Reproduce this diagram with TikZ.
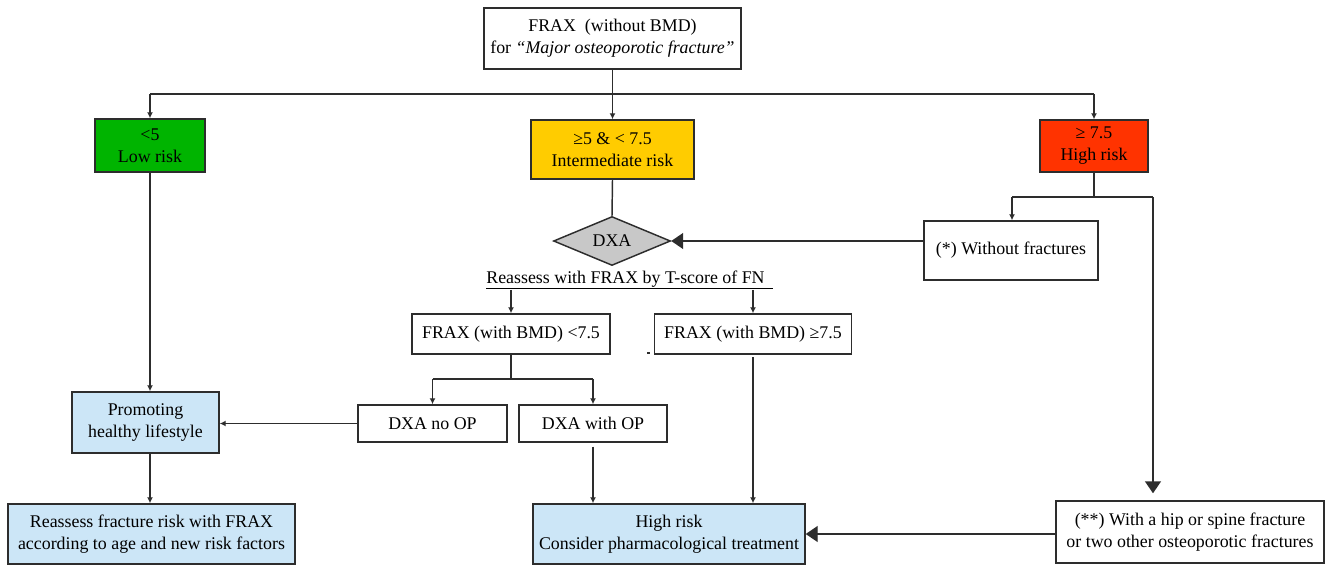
\documentclass[tikz,border=0pt]{standalone}
\usepackage{fontspec}
\setmainfont{Liberation Serif}
\usetikzlibrary{arrows.meta,shapes.geometric}

\definecolor{lowgreen}{RGB}{0,180,0}
\definecolor{midyellow}{RGB}{255,204,0}
\definecolor{highred}{RGB}{255,51,0}
\definecolor{actionblue}{RGB}{204,230,247}
\definecolor{dxagray}{RGB}{200,200,200}
\definecolor{ink}{RGB}{45,45,45}

\begin{document}
\begin{tikzpicture}[x=0.75pt,y=-0.75pt,
  every node/.style={font=\fontsize{13.4pt}{16.5pt}\selectfont, text=black},
  sz/.style 2 args={minimum width=#1*0.75pt, minimum height=#2*0.75pt},
  box/.style={draw=ink, line width=1.1pt, rectangle, align=center, inner sep=0pt},
  wire/.style={draw=ink, line width=1.1pt},
  arr/.style={wire, -{Latex[length=4.5pt,width=4.5pt]}},
  bigarr/.style={wire, -{Triangle[length=9pt,width=12pt]}},
]
\useasboundingbox (0,0) rectangle (1336,567);

% boxes
\node[box, sz={257}{61}] (top) at (612.5,38.5)
  {FRAX\ \ (without BMD)\\for \textit{“Major osteoporotic fracture”}};
\node[box, fill=lowgreen, sz={110}{53}] (low) at (150,145.5) {<5\\Low risk};
\node[box, fill=midyellow, sz={163}{59}] (mid) at (612.5,149.5) {≥5 \& < 7.5\\Intermediate risk};
\node[box, fill=highred, sz={108}{52}] (high) at (1094,146) {≥ 7.5\\High risk};
\node[diamond, draw=ink, line width=1.1pt, fill=dxagray, inner sep=0pt, aspect=2.4,
      sz={117}{49}] (dxa) at (612,241) {DXA};
\node[box, sz={174}{59}] (nofx) at (1011,250.5) {(*) Without fractures};
\node[inner sep=0pt, anchor=base] (reass) at (629.5,283)
  {\underline{Reassess with FRAX by T-score of FN\hspace{6pt}}};
\node[box, sz={198}{40}] (lt) at (511,334) {FRAX (with BMD) <7.5};
\node[box, sz={197}{40}] (ge) at (753,334) {FRAX (with BMD) ≥7.5};
\node[box, sz={149}{37}] (noop) at (432.5,423.5) {DXA no OP};
\node[box, sz={148}{37}] (withop) at (593,423.5) {DXA with OP};
\node[box, fill=actionblue, sz={147}{61}] (promo) at (145.5,422.5) {Promoting\\healthy lifestyle};
\node[box, fill=actionblue, sz={287}{60}] (refrax) at (151.5,534)
  {Reassess fracture risk with FRAX\\according to age and new risk factors};
\node[box, fill=actionblue, sz={272}{60}] (treat) at (669,534)
  {High risk\\Consider pharmacological treatment};
\node[box, sz={268}{62}] (twofx) at (1190,532)
  {(**) With a hip or spine fracture\\or two other osteoporotic fractures};

% stray mark next to the right FRAX box
\fill[ink] (647,352) rectangle (650,354);

% top distribution bus
\coordinate (busL) at (150,94);
\coordinate (busR) at (1094,94);
\draw[wire] (top.south) -- (top.south |- busL);
\draw[wire] (busL) -- (busR);
\draw[arr] (busL) -- (low.north);
\draw[arr] (top.south |- busL) -- (mid.north);
\draw[arr] (busR) -- (high.north);

% intermediate risk to DXA
\draw[wire] (mid.south) -- (dxa.north);

% high risk branches
\coordinate (hj) at (1094,197);
\coordinate (hjL) at (1012,197);
\coordinate (hjR) at (1153,197);
\draw[wire] (high.south) -- (hj);
\draw[wire] (hjL) -- (hjR);
\draw[arr] (hjL) -- (hjL |- nofx.north);
\draw[bigarr, shorten >=5.25pt] (hjR) -- (hjR |- twofx.north);
\draw[bigarr] (nofx.west |- dxa.east) -- (dxa.east);

% reassessment with BMD
\draw[arr] (reass.south -| lt.north) -- (lt.north);
\draw[arr] (reass.south -| ge.north) -- (ge.north);
\coordinate (lj) at (511,379);
\draw[wire] (lt.south) -- (lj);
\draw[wire] (noop.north |- lj) -- (withop.north |- lj);
\draw[arr] (noop.north |- lj) -- (noop.north);
\draw[arr] (withop.north |- lj) -- (withop.north);

% outcomes
\draw[arr] (noop.west) -- (noop.west -| promo.east);
\draw[arr] (low.south) -- (low.south |- promo.north);
\draw[arr] (low.south |- promo.south) -- (low.south |- refrax.north);
\draw[arr, shorten <=3pt] (withop.south) -- (withop.south |- treat.north);
\draw[arr, shorten <=2pt] (ge.south) -- (ge.south |- treat.north);
\draw[bigarr] (twofx.west |- treat.east) -- (treat.east);
\end{tikzpicture}
\end{document}
